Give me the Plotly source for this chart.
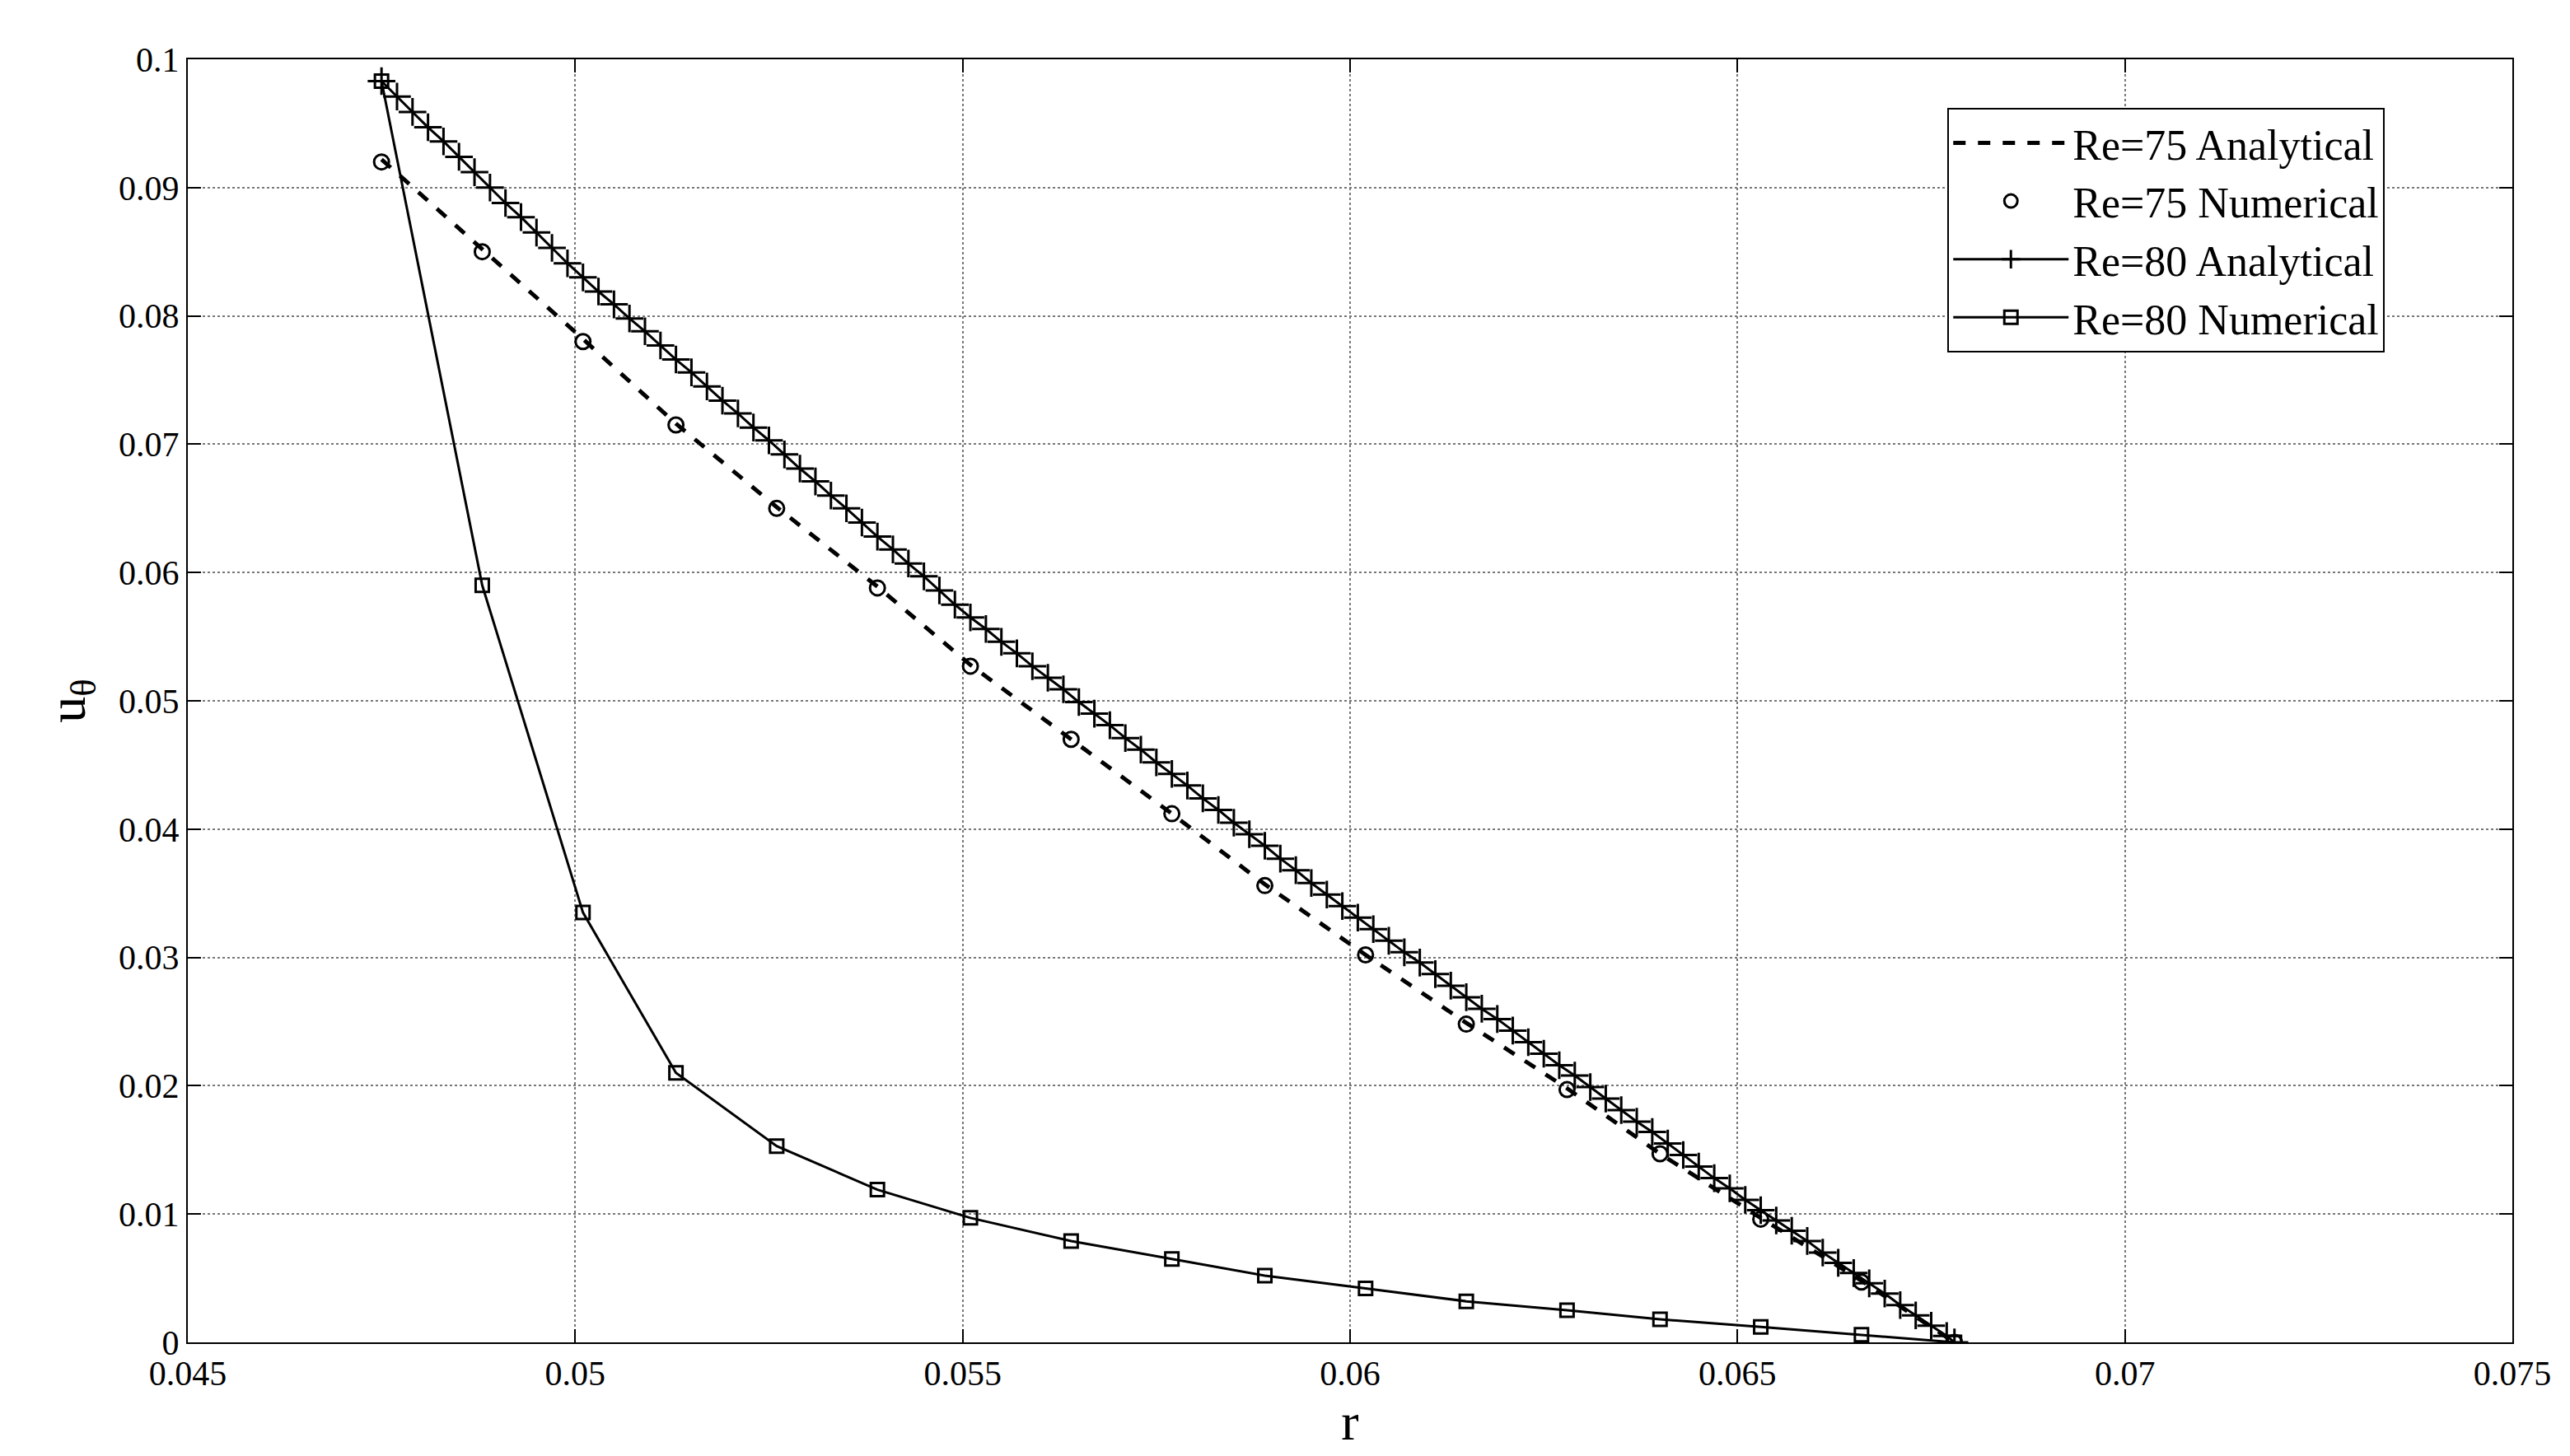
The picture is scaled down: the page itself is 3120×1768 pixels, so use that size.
import plotly.graph_objects as go

r_a80 = [0.0475,0.0477,0.0479,0.0481,0.0483,0.0485,0.0487,0.0489,0.0491,0.0493,0.0495,0.0497,0.0499,
 0.0501,0.0503,0.0505,0.0507,0.0509,0.0511,0.0513,0.0515,0.0517,0.0519,0.0521,0.0523,0.0525,0.0527,0.0529,0.0531,0.0533,0.0535,0.0537,0.0539,0.0541,0.0543,0.0545,0.0547,0.0549,
 0.0551,0.0553,0.0555,0.0557,0.0559,0.0561,0.0563,0.0565,0.0567,0.0569,0.0571,0.0573,0.0575,0.0577,0.0579,0.0581,0.0583,0.0585,0.0587,0.0589,0.0591,0.0593,0.0595,0.0597,0.0599,
 0.0601,0.0603,0.0605,0.0607,0.0609,0.0611,0.0613,0.0615,0.0617,0.0619,0.0621,0.0623,0.0625,0.0627,0.0629,0.0631,0.0633,0.0635,0.0637,0.0639,0.0641,0.0643,0.0645,0.0647,0.0649,
 0.0651,0.0653,0.0655,0.0657,0.0659,0.0661,0.0663,0.0665,0.0667,0.0669,0.0671,0.0673,0.0675,0.0677,0.0678]
u_a80 = [0.0983,0.0971,0.0959,0.0947,0.0936,0.0924,0.0912,0.0900,0.0888,0.0877,0.0865,0.0853,0.0841,
 0.0830,0.0819,0.0809,0.0798,0.0788,0.0777,0.0766,0.0756,0.0745,0.0734,0.0724,0.0713,0.0703,0.0692,0.0681,0.0671,0.0660,0.0650,0.0639,0.0628,0.0618,0.0607,0.0597,0.0586,0.0575,
 0.0565,0.0556,0.0546,0.0537,0.0527,0.0518,0.0509,0.0499,0.0490,0.0481,0.0471,0.0462,0.0452,0.0443,0.0434,0.0424,0.0415,0.0405,0.0396,0.0387,0.0377,0.0368,0.0358,0.0349,0.0340,
 0.0331,0.0322,0.0313,0.0304,0.0296,0.0287,0.0278,0.0269,0.0260,0.0252,0.0243,0.0234,0.0225,0.0216,0.0208,0.0199,0.0190,0.0181,0.0172,0.0164,0.0155,0.0146,0.0137,0.0128,0.0120,
 0.0111,0.0103,0.0095,0.0087,0.0079,0.0070,0.0062,0.0054,0.0046,0.0038,0.0029,0.0021,0.0013,0.0005,0.0]

r_num = [0.0475,0.0488,0.0501,0.0513,0.0526,0.0539,0.0551,0.0564,0.0577,0.0589,0.0602,0.0615,0.0628,0.0640,0.0653,0.0666,0.0678]
u_n75 = [0.0920,0.0850,0.0780,0.0715,0.0650,0.0588,0.0527,0.0470,0.0412,0.0356,0.0302,0.0248,0.0197,0.0147,0.0096,0.0047,0.0]
u_a75 = [0.0922,0.0852,0.0782,0.0716,0.0651,0.0589,0.0528,0.0470,0.0412,0.0357,0.0302,0.0249,0.0198,0.0147,0.0097,0.0048,0.0]
u_n80 = [0.0983,0.0590,0.0335,0.0210,0.0153,0.0119,0.0097,0.0079,0.0065,0.0052,0.0042,0.0032,0.0025,0.0018,0.0012,0.0006,0.0]

x_ticks = [0.045,0.05,0.055,0.06,0.065,0.07,0.075]
x_labels = ["0.045","0.05","0.055","0.06","0.065","0.07","0.075"]
y_ticks = [0,0.01,0.02,0.03,0.04,0.05,0.06,0.07,0.08,0.09,0.1]
y_labels = ["0","0.01","0.02","0.03","0.04","0.05","0.06","0.07","0.08","0.09","0.1"]

fig = go.Figure()
fig.add_trace(go.Scatter(x=r_num, y=u_a75, mode="lines", name="Re=75 Analytical",
                         line=dict(color="black", width=5, dash="dash")))
fig.add_trace(go.Scatter(x=r_num, y=u_n75, mode="markers", name="Re=75 Numerical",
                         marker=dict(symbol="circle-open", size=18, color="black", line=dict(width=3))))
fig.add_trace(go.Scatter(x=r_a80, y=u_a80, mode="lines+markers", name="Re=80 Analytical",
                         line=dict(color="black", width=3),
                         marker=dict(symbol="cross-thin-open", size=24, color="black", line=dict(width=3, color="black"))))
fig.add_trace(go.Scatter(x=r_num, y=u_n80, mode="lines+markers", name="Re=80 Numerical",
                         line=dict(color="black", width=3),
                         marker=dict(symbol="square-open", size=16, color="black", line=dict(width=3))))

ax = dict(showline=True, linecolor="black", linewidth=2, mirror="ticks", ticks="inside",
          ticklen=16, tickwidth=2, tickcolor="black", showgrid=True, gridcolor="#777",
          griddash="dot", gridwidth=2, zeroline=False, tickfont=dict(size=42, color="black"))
fig.update_xaxes(**ax, range=[0.045, 0.075], tickvals=x_ticks, ticktext=x_labels,
                 title=dict(text="r", font=dict(size=64, color="black"), standoff=6))
fig.update_yaxes(**ax, range=[0, 0.1], tickvals=y_ticks, ticktext=y_labels,
                 title=dict(text="u<sub>θ</sub>", font=dict(size=64, color="black"), standoff=20))
fig.update_layout(
    width=3120, height=1768, paper_bgcolor="white", plot_bgcolor="white",
    font=dict(family="Liberation Serif", color="black"),
    margin=dict(l=220, r=78, t=64, b=146),
    legend=dict(x=0.757, y=0.962, xanchor="left", yanchor="top", bgcolor="white",
                bordercolor="black", borderwidth=2, font=dict(size=52, color="black"),
                tracegroupgap=0, itemwidth=140),
    showlegend=True)
fig.write_html("out.html")
